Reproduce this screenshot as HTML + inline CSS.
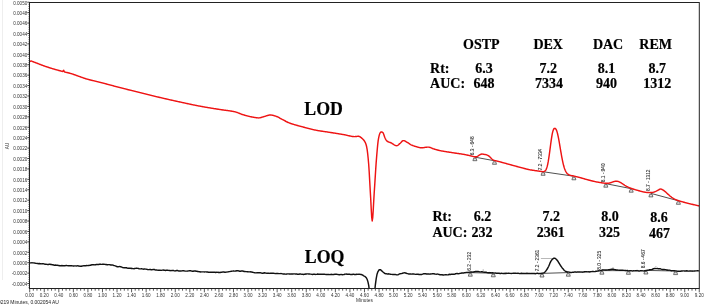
<!DOCTYPE html>
<html><head><meta charset="utf-8"><style>
html,body{margin:0;padding:0;background:#fff;}
body{width:704px;height:306px;overflow:hidden;position:relative;}
svg{position:absolute;left:0;top:0;will-change:transform;}
text{font-family:"Liberation Sans",sans-serif;}
.yl{font-size:4.6px;fill:#333;text-anchor:end;}
.xl{font-size:4.6px;fill:#333;text-anchor:middle;}
.pl{font-size:5.2px;fill:#222;stroke:#222;stroke-width:0.05px;}
.bb{font-size:3.6px;fill:#111;stroke:#111;stroke-width:0.2px;}
.big text{font-family:"Liberation Serif",serif;font-weight:bold;fill:#000;stroke:#000;stroke-width:0.2px;}
.sm{font-size:4.95px;fill:#222;}
</style></head><body>
<svg width="704" height="306" viewBox="0 0 704 306">
<line x1="2.5" y1="0" x2="2.5" y2="280" stroke="#eee" stroke-width="1"/>
<path d="M27.30,283.54h2.2 M27.30,273.12h2.2 M27.30,262.70h2.2 M27.30,252.28h2.2 M27.30,241.86h2.2 M27.30,231.44h2.2 M27.30,221.02h2.2 M27.30,210.60h2.2 M27.30,200.18h2.2 M27.30,189.76h2.2 M27.30,179.34h2.2 M27.30,168.92h2.2 M27.30,158.50h2.2 M27.30,148.08h2.2 M27.30,137.66h2.2 M27.30,127.24h2.2 M27.30,116.82h2.2 M27.30,106.40h2.2 M27.30,95.98h2.2 M27.30,85.56h2.2 M27.30,75.14h2.2 M27.30,64.72h2.2 M27.30,54.30h2.2 M27.30,43.88h2.2 M27.30,33.46h2.2 M27.30,23.04h2.2 M27.30,12.62h2.2 M27.30,2.20h2.2" stroke="#222" stroke-width="0.8" fill="none"/>
<path d="M29.50,287.71h-1 M29.50,285.62h-1 M29.50,283.54h-1 M29.50,281.46h-1 M29.50,279.37h-1 M29.50,277.29h-1 M29.50,275.20h-1 M29.50,273.12h-1 M29.50,271.04h-1 M29.50,268.95h-1 M29.50,266.87h-1 M29.50,264.78h-1 M29.50,262.70h-1 M29.50,260.62h-1 M29.50,258.53h-1 M29.50,256.45h-1 M29.50,254.36h-1 M29.50,252.28h-1 M29.50,250.20h-1 M29.50,248.11h-1 M29.50,246.03h-1 M29.50,243.94h-1 M29.50,241.86h-1 M29.50,239.78h-1 M29.50,237.69h-1 M29.50,235.61h-1 M29.50,233.52h-1 M29.50,231.44h-1 M29.50,229.36h-1 M29.50,227.27h-1 M29.50,225.19h-1 M29.50,223.10h-1 M29.50,221.02h-1 M29.50,218.94h-1 M29.50,216.85h-1 M29.50,214.77h-1 M29.50,212.68h-1 M29.50,210.60h-1 M29.50,208.52h-1 M29.50,206.43h-1 M29.50,204.35h-1 M29.50,202.26h-1 M29.50,200.18h-1 M29.50,198.10h-1 M29.50,196.01h-1 M29.50,193.93h-1 M29.50,191.84h-1 M29.50,189.76h-1 M29.50,187.68h-1 M29.50,185.59h-1 M29.50,183.51h-1 M29.50,181.42h-1 M29.50,179.34h-1 M29.50,177.26h-1 M29.50,175.17h-1 M29.50,173.09h-1 M29.50,171.00h-1 M29.50,168.92h-1 M29.50,166.84h-1 M29.50,164.75h-1 M29.50,162.67h-1 M29.50,160.58h-1 M29.50,158.50h-1 M29.50,156.42h-1 M29.50,154.33h-1 M29.50,152.25h-1 M29.50,150.16h-1 M29.50,148.08h-1 M29.50,146.00h-1 M29.50,143.91h-1 M29.50,141.83h-1 M29.50,139.74h-1 M29.50,137.66h-1 M29.50,135.58h-1 M29.50,133.49h-1 M29.50,131.41h-1 M29.50,129.32h-1 M29.50,127.24h-1 M29.50,125.16h-1 M29.50,123.07h-1 M29.50,120.99h-1 M29.50,118.90h-1 M29.50,116.82h-1 M29.50,114.74h-1 M29.50,112.65h-1 M29.50,110.57h-1 M29.50,108.48h-1 M29.50,106.40h-1 M29.50,104.32h-1 M29.50,102.23h-1 M29.50,100.15h-1 M29.50,98.06h-1 M29.50,95.98h-1 M29.50,93.90h-1 M29.50,91.81h-1 M29.50,89.73h-1 M29.50,87.64h-1 M29.50,85.56h-1 M29.50,83.48h-1 M29.50,81.39h-1 M29.50,79.31h-1 M29.50,77.22h-1 M29.50,75.14h-1 M29.50,73.06h-1 M29.50,70.97h-1 M29.50,68.89h-1 M29.50,66.80h-1 M29.50,64.72h-1 M29.50,62.64h-1 M29.50,60.55h-1 M29.50,58.47h-1 M29.50,56.38h-1 M29.50,54.30h-1 M29.50,52.22h-1 M29.50,50.13h-1 M29.50,48.05h-1 M29.50,45.96h-1 M29.50,43.88h-1 M29.50,41.80h-1 M29.50,39.71h-1 M29.50,37.63h-1 M29.50,35.54h-1 M29.50,33.46h-1 M29.50,31.38h-1 M29.50,29.29h-1 M29.50,27.21h-1 M29.50,25.12h-1 M29.50,23.04h-1 M29.50,20.96h-1 M29.50,18.87h-1 M29.50,16.79h-1 M29.50,14.70h-1 M29.50,12.62h-1 M29.50,10.54h-1 M29.50,8.45h-1 M29.50,6.37h-1 M29.50,4.28h-1" stroke="#333" stroke-width="0.8" fill="none"/>
<path d="M29.70,288.50v3.8 M33.34,288.50v2.2 M36.98,288.50v2.2 M40.62,288.50v2.2 M44.26,288.50v3.8 M47.89,288.50v2.2 M51.53,288.50v2.2 M55.17,288.50v2.2 M58.81,288.50v3.8 M62.45,288.50v2.2 M66.09,288.50v2.2 M69.73,288.50v2.2 M73.37,288.50v3.8 M77.01,288.50v2.2 M80.65,288.50v2.2 M84.28,288.50v2.2 M87.92,288.50v3.8 M91.56,288.50v2.2 M95.20,288.50v2.2 M98.84,288.50v2.2 M102.48,288.50v3.8 M106.12,288.50v2.2 M109.76,288.50v2.2 M113.40,288.50v2.2 M117.04,288.50v3.8 M120.67,288.50v2.2 M124.31,288.50v2.2 M127.95,288.50v2.2 M131.59,288.50v3.8 M135.23,288.50v2.2 M138.87,288.50v2.2 M142.51,288.50v2.2 M146.15,288.50v3.8 M149.79,288.50v2.2 M153.43,288.50v2.2 M157.06,288.50v2.2 M160.70,288.50v3.8 M164.34,288.50v2.2 M167.98,288.50v2.2 M171.62,288.50v2.2 M175.26,288.50v3.8 M178.90,288.50v2.2 M182.54,288.50v2.2 M186.18,288.50v2.2 M189.82,288.50v3.8 M193.45,288.50v2.2 M197.09,288.50v2.2 M200.73,288.50v2.2 M204.37,288.50v3.8 M208.01,288.50v2.2 M211.65,288.50v2.2 M215.29,288.50v2.2 M218.93,288.50v3.8 M222.57,288.50v2.2 M226.21,288.50v2.2 M229.84,288.50v2.2 M233.48,288.50v3.8 M237.12,288.50v2.2 M240.76,288.50v2.2 M244.40,288.50v2.2 M248.04,288.50v3.8 M251.68,288.50v2.2 M255.32,288.50v2.2 M258.96,288.50v2.2 M262.60,288.50v3.8 M266.24,288.50v2.2 M269.87,288.50v2.2 M273.51,288.50v2.2 M277.15,288.50v3.8 M280.79,288.50v2.2 M284.43,288.50v2.2 M288.07,288.50v2.2 M291.71,288.50v3.8 M295.35,288.50v2.2 M298.99,288.50v2.2 M302.62,288.50v2.2 M306.26,288.50v3.8 M309.90,288.50v2.2 M313.54,288.50v2.2 M317.18,288.50v2.2 M320.82,288.50v3.8 M324.46,288.50v2.2 M328.10,288.50v2.2 M331.74,288.50v2.2 M335.38,288.50v3.8 M339.01,288.50v2.2 M342.65,288.50v2.2 M346.29,288.50v2.2 M349.93,288.50v3.8 M353.57,288.50v2.2 M357.21,288.50v2.2 M360.85,288.50v2.2 M364.49,288.50v3.8 M368.13,288.50v2.2 M371.77,288.50v2.2 M375.40,288.50v2.2 M379.04,288.50v3.8 M382.68,288.50v2.2 M386.32,288.50v2.2 M389.96,288.50v2.2 M393.60,288.50v3.8 M397.24,288.50v2.2 M400.88,288.50v2.2 M404.52,288.50v2.2 M408.16,288.50v3.8 M411.80,288.50v2.2 M415.43,288.50v2.2 M419.07,288.50v2.2 M422.71,288.50v3.8 M426.35,288.50v2.2 M429.99,288.50v2.2 M433.63,288.50v2.2 M437.27,288.50v3.8 M440.91,288.50v2.2 M444.55,288.50v2.2 M448.19,288.50v2.2 M451.82,288.50v3.8 M455.46,288.50v2.2 M459.10,288.50v2.2 M462.74,288.50v2.2 M466.38,288.50v3.8 M470.02,288.50v2.2 M473.66,288.50v2.2 M477.30,288.50v2.2 M480.94,288.50v3.8 M484.57,288.50v2.2 M488.21,288.50v2.2 M491.85,288.50v2.2 M495.49,288.50v3.8 M499.13,288.50v2.2 M502.77,288.50v2.2 M506.41,288.50v2.2 M510.05,288.50v3.8 M513.69,288.50v2.2 M517.33,288.50v2.2 M520.97,288.50v2.2 M524.60,288.50v3.8 M528.24,288.50v2.2 M531.88,288.50v2.2 M535.52,288.50v2.2 M539.16,288.50v3.8 M542.80,288.50v2.2 M546.44,288.50v2.2 M550.08,288.50v2.2 M553.72,288.50v3.8 M557.36,288.50v2.2 M560.99,288.50v2.2 M564.63,288.50v2.2 M568.27,288.50v3.8 M571.91,288.50v2.2 M575.55,288.50v2.2 M579.19,288.50v2.2 M582.83,288.50v3.8 M586.47,288.50v2.2 M590.11,288.50v2.2 M593.75,288.50v2.2 M597.38,288.50v3.8 M601.02,288.50v2.2 M604.66,288.50v2.2 M608.30,288.50v2.2 M611.94,288.50v3.8 M615.58,288.50v2.2 M619.22,288.50v2.2 M622.86,288.50v2.2 M626.50,288.50v3.8 M630.14,288.50v2.2 M633.77,288.50v2.2 M637.41,288.50v2.2 M641.05,288.50v3.8 M644.69,288.50v2.2 M648.33,288.50v2.2 M651.97,288.50v2.2 M655.61,288.50v3.8 M659.25,288.50v2.2 M662.89,288.50v2.2 M666.53,288.50v2.2 M670.16,288.50v3.8 M673.80,288.50v2.2 M677.44,288.50v2.2 M681.08,288.50v2.2 M684.72,288.50v3.8 M688.36,288.50v2.2 M692.00,288.50v2.2 M695.64,288.50v2.2 M699.28,288.50v3.8" stroke="#333" stroke-width="0.8" fill="none"/>
<g><text x="27.3" y="285.84" class="yl">-0.0004</text>
<text x="27.3" y="275.42" class="yl">-0.0002</text>
<text x="27.3" y="265.00" class="yl">0.0000</text>
<text x="27.3" y="254.58" class="yl">0.0002</text>
<text x="27.3" y="244.16" class="yl">0.0004</text>
<text x="27.3" y="233.74" class="yl">0.0006</text>
<text x="27.3" y="223.32" class="yl">0.0008</text>
<text x="27.3" y="212.90" class="yl">0.0010</text>
<text x="27.3" y="202.48" class="yl">0.0012</text>
<text x="27.3" y="192.06" class="yl">0.0014</text>
<text x="27.3" y="181.64" class="yl">0.0016</text>
<text x="27.3" y="171.22" class="yl">0.0018</text>
<text x="27.3" y="160.80" class="yl">0.0020</text>
<text x="27.3" y="150.38" class="yl">0.0022</text>
<text x="27.3" y="139.96" class="yl">0.0024</text>
<text x="27.3" y="129.54" class="yl">0.0026</text>
<text x="27.3" y="119.12" class="yl">0.0028</text>
<text x="27.3" y="108.70" class="yl">0.0030</text>
<text x="27.3" y="98.28" class="yl">0.0032</text>
<text x="27.3" y="87.86" class="yl">0.0034</text>
<text x="27.3" y="77.44" class="yl">0.0036</text>
<text x="27.3" y="67.02" class="yl">0.0038</text>
<text x="27.3" y="56.60" class="yl">0.0040</text>
<text x="27.3" y="46.18" class="yl">0.0042</text>
<text x="27.3" y="35.76" class="yl">0.0044</text>
<text x="27.3" y="25.34" class="yl">0.0046</text>
<text x="27.3" y="14.92" class="yl">0.0048</text>
<text x="27.3" y="4.50" class="yl">0.0050</text></g>
<g><text x="29.70" y="296.5" class="xl">0.00</text>
<text x="44.26" y="296.5" class="xl">0.20</text>
<text x="58.81" y="296.5" class="xl">0.40</text>
<text x="73.37" y="296.5" class="xl">0.60</text>
<text x="87.92" y="296.5" class="xl">0.80</text>
<text x="102.48" y="296.5" class="xl">1.00</text>
<text x="117.04" y="296.5" class="xl">1.20</text>
<text x="131.59" y="296.5" class="xl">1.40</text>
<text x="146.15" y="296.5" class="xl">1.60</text>
<text x="160.70" y="296.5" class="xl">1.80</text>
<text x="175.26" y="296.5" class="xl">2.00</text>
<text x="189.82" y="296.5" class="xl">2.20</text>
<text x="204.37" y="296.5" class="xl">2.40</text>
<text x="218.93" y="296.5" class="xl">2.60</text>
<text x="233.48" y="296.5" class="xl">2.80</text>
<text x="248.04" y="296.5" class="xl">3.00</text>
<text x="262.60" y="296.5" class="xl">3.20</text>
<text x="277.15" y="296.5" class="xl">3.40</text>
<text x="291.71" y="296.5" class="xl">3.60</text>
<text x="306.26" y="296.5" class="xl">3.80</text>
<text x="320.82" y="296.5" class="xl">4.00</text>
<text x="335.38" y="296.5" class="xl">4.20</text>
<text x="349.93" y="296.5" class="xl">4.40</text>
<text x="364.49" y="296.5" class="xl">4.60</text>
<text x="379.04" y="296.5" class="xl">4.80</text>
<text x="393.60" y="296.5" class="xl">5.00</text>
<text x="408.16" y="296.5" class="xl">5.20</text>
<text x="422.71" y="296.5" class="xl">5.40</text>
<text x="437.27" y="296.5" class="xl">5.60</text>
<text x="451.82" y="296.5" class="xl">5.80</text>
<text x="466.38" y="296.5" class="xl">6.00</text>
<text x="480.94" y="296.5" class="xl">6.20</text>
<text x="495.49" y="296.5" class="xl">6.40</text>
<text x="510.05" y="296.5" class="xl">6.60</text>
<text x="524.60" y="296.5" class="xl">6.80</text>
<text x="539.16" y="296.5" class="xl">7.00</text>
<text x="553.72" y="296.5" class="xl">7.20</text>
<text x="568.27" y="296.5" class="xl">7.40</text>
<text x="582.83" y="296.5" class="xl">7.60</text>
<text x="597.38" y="296.5" class="xl">7.80</text>
<text x="611.94" y="296.5" class="xl">8.00</text>
<text x="626.50" y="296.5" class="xl">8.20</text>
<text x="641.05" y="296.5" class="xl">8.40</text>
<text x="655.61" y="296.5" class="xl">8.60</text>
<text x="670.16" y="296.5" class="xl">8.80</text>
<text x="684.72" y="296.5" class="xl">9.00</text>
<text x="699.28" y="296.5" class="xl">9.20</text></g>
<text x="364.5" y="302.2" class="xl" style="font-size:4.8px">Minutes</text>
<text x="-2" y="303.5" class="sm">0219 Minutes, 0.002054 AU</text>
<text transform="translate(8.6,146) rotate(-90)" class="xl" style="font-size:4.6px">AU</text>
<path d="M474.60,157.10L494.20,160.70 M542.80,171.70L573.60,176.20 M605.50,183.60L630.90,188.60 M650.60,193.30L678.10,200.70 M470.00,272.60L493.00,273.20 M541.70,273.40L568.00,272.60 M601.60,270.60L628.10,270.70 M645.60,270.40L675.30,271.00" stroke="#222" stroke-width="0.8" fill="none"/>
<path d="M540.9,258.5H554.6 M483.2,269.2v2.6 M613,267v2.5 M655.9,266v2.5" stroke="#888" stroke-width="0.6" fill="none"/>
<path d="M473.70,158.10h2.4l0.8,2.6h-4zM493.30,161.70h2.4l0.8,2.6h-4zM541.90,172.70h2.4l0.8,2.6h-4zM572.70,177.20h2.4l0.8,2.6h-4zM604.60,184.60h2.4l0.8,2.6h-4zM630.00,189.60h2.4l0.8,2.6h-4zM649.70,194.30h2.4l0.8,2.6h-4zM677.20,201.70h2.4l0.8,2.6h-4zM469.10,273.60h2.4l0.8,2.6h-4zM492.10,274.20h2.4l0.8,2.6h-4zM540.80,274.40h2.4l0.8,2.6h-4zM567.10,273.60h2.4l0.8,2.6h-4zM600.70,271.60h2.4l0.8,2.6h-4zM627.20,271.70h2.4l0.8,2.6h-4zM644.70,271.40h2.4l0.8,2.6h-4zM674.40,272.00h2.4l0.8,2.6h-4z" fill="#ddd" stroke="#333" stroke-width="0.65"/>
<g><text transform="translate(474.30,155.30) rotate(-90) scale(0.92,1)" class="pl">6.3 - 648</text><text transform="translate(541.80,170.30) rotate(-90) scale(0.92,1)" class="pl">7.2 - 7334</text><text transform="translate(605.00,182.30) rotate(-90) scale(0.92,1)" class="pl">8.1 - 940</text><text transform="translate(650.30,191.00) rotate(-90) scale(0.92,1)" class="pl">8.7 - 1312</text><text transform="translate(470.80,270.80) rotate(-90) scale(0.92,1)" class="pl">6.2 - 232</text><text transform="translate(539.30,271.30) rotate(-90) scale(0.92,1)" class="pl">7.2 - 2361</text><text transform="translate(600.60,269.80) rotate(-90) scale(0.92,1)" class="pl">8.0 - 325</text><text transform="translate(645.00,268.30) rotate(-90) scale(0.92,1)" class="pl">8.6 - 467</text></g>
<defs><clipPath id="pc"><rect x="29.5" y="2.5" width="669.8" height="286.0"/></clipPath></defs>
<g clip-path="url(#pc)">
<path d="M29.70,61.70L30.20,61.30L30.70,61.05L31.20,61.01L31.70,61.14L32.20,61.35L32.70,61.58L33.20,61.77L33.70,61.96L34.20,62.14L34.70,62.33L35.20,62.52L35.70,62.71L36.20,62.90L36.70,63.10L37.20,63.29L37.70,63.49L38.20,63.69L38.70,63.88L39.20,64.08L39.70,64.28L40.20,64.47L40.70,64.66L41.20,64.86L41.70,65.05L42.20,65.23L42.70,65.42L43.20,65.60L43.70,65.78L44.20,65.96L44.70,66.13L45.20,66.31L45.70,66.48L46.20,66.65L46.70,66.81L47.20,66.98L47.70,67.14L48.20,67.31L48.70,67.47L49.20,67.63L49.70,67.79L50.20,67.95L50.70,68.10L51.20,68.26L51.70,68.41L52.20,68.57L52.70,68.72L53.20,68.87L53.70,69.02L54.20,69.17L54.70,69.31L55.20,69.46L55.70,69.60L56.20,69.74L56.70,69.88L57.20,70.02L57.70,70.16L58.20,70.29L58.70,70.43L59.20,70.56L59.70,70.69L60.20,70.82L60.70,70.95L61.20,71.08L61.70,71.21L62.20,71.34L62.70,71.47L63.20,70.80L63.70,70.33L64.20,71.45L64.70,71.97L65.20,72.09L65.70,72.21L66.20,72.33L66.70,72.45L67.20,72.56L67.70,72.68L68.20,72.81L68.70,72.93L69.20,73.06L69.70,73.19L70.20,73.33L70.70,73.47L71.20,73.62L71.70,73.77L72.20,73.93L72.70,74.10L73.20,74.27L73.70,74.44L74.20,74.62L74.70,74.80L75.20,74.98L75.70,75.16L76.20,75.34L76.70,75.52L77.20,75.70L77.70,75.88L78.20,76.06L78.70,76.23L79.20,76.41L79.70,76.59L80.20,76.77L80.70,76.95L81.20,77.13L81.70,77.31L82.20,77.49L82.70,77.67L83.20,77.85L83.70,78.02L84.20,78.20L84.70,78.37L85.20,78.53L85.70,78.69L86.20,78.84L86.70,78.99L87.20,79.13L87.70,79.27L88.20,79.41L88.70,79.54L89.20,79.68L89.70,79.81L90.20,79.93L90.70,80.06L91.20,80.18L91.70,80.30L92.20,80.43L92.70,80.55L93.20,80.66L93.70,80.78L94.20,80.90L94.70,81.02L95.20,81.14L95.70,81.25L96.20,81.37L96.70,81.49L97.20,81.61L97.70,81.73L98.20,81.85L98.70,81.97L99.20,82.10L99.70,82.22L100.20,82.35L100.70,82.48L101.20,82.61L101.70,82.74L102.20,82.87L102.70,83.00L103.20,83.13L103.70,83.26L104.20,83.40L104.70,83.53L105.20,83.66L105.70,83.80L106.20,83.93L106.70,84.06L107.20,84.20L107.70,84.33L108.20,84.46L108.70,84.60L109.20,84.73L109.70,84.87L110.20,85.00L110.70,85.14L111.20,85.27L111.70,85.41L112.20,85.54L112.70,85.67L113.20,85.81L113.70,85.94L114.20,86.08L114.70,86.21L115.20,86.34L115.70,86.48L116.20,86.61L116.70,86.74L117.20,86.87L117.70,87.00L118.20,87.13L118.70,87.26L119.20,87.39L119.70,87.52L120.20,87.65L120.70,87.78L121.20,87.91L121.70,88.04L122.20,88.16L122.70,88.29L123.20,88.42L123.70,88.54L124.20,88.67L124.70,88.80L125.20,88.92L125.70,89.05L126.20,89.17L126.70,89.30L127.20,89.43L127.70,89.55L128.20,89.68L128.70,89.80L129.20,89.93L129.70,90.05L130.20,90.17L130.70,90.30L131.20,90.42L131.70,90.55L132.20,90.67L132.70,90.79L133.20,90.92L133.70,91.04L134.20,91.17L134.70,91.29L135.20,91.41L135.70,91.54L136.20,91.66L136.70,91.78L137.20,91.91L137.70,92.03L138.20,92.15L138.70,92.28L139.20,92.40L139.70,92.53L140.20,92.65L140.70,92.77L141.20,92.90L141.70,93.02L142.20,93.15L142.70,93.27L143.20,93.39L143.70,93.52L144.20,93.64L144.70,93.77L145.20,93.89L145.70,94.02L146.20,94.14L146.70,94.26L147.20,94.39L147.70,94.51L148.20,94.64L148.70,94.76L149.20,94.88L149.70,95.01L150.20,95.13L150.70,95.25L151.20,95.38L151.70,95.50L152.20,95.62L152.70,95.75L153.20,95.87L153.70,95.99L154.20,96.11L154.70,96.23L155.20,96.36L155.70,96.48L156.20,96.60L156.70,96.72L157.20,96.84L157.70,96.96L158.20,97.07L158.70,97.19L159.20,97.31L159.70,97.43L160.20,97.55L160.70,97.66L161.20,97.78L161.70,97.90L162.20,98.01L162.70,98.13L163.20,98.25L163.70,98.36L164.20,98.48L164.70,98.59L165.20,98.71L165.70,98.82L166.20,98.93L166.70,99.05L167.20,99.16L167.70,99.28L168.20,99.39L168.70,99.50L169.20,99.61L169.70,99.73L170.20,99.84L170.70,99.95L171.20,100.06L171.70,100.18L172.20,100.29L172.70,100.40L173.20,100.51L173.70,100.62L174.20,100.73L174.70,100.84L175.20,100.95L175.70,101.06L176.20,101.17L176.70,101.28L177.20,101.39L177.70,101.50L178.20,101.61L178.70,101.72L179.20,101.83L179.70,101.93L180.20,102.04L180.70,102.15L181.20,102.26L181.70,102.37L182.20,102.48L182.70,102.59L183.20,102.70L183.70,102.81L184.20,102.91L184.70,103.02L185.20,103.13L185.70,103.24L186.20,103.35L186.70,103.46L187.20,103.57L187.70,103.67L188.20,103.78L188.70,103.89L189.20,104.00L189.70,104.10L190.20,104.21L190.70,104.32L191.20,104.42L191.70,104.53L192.20,104.63L192.70,104.73L193.20,104.84L193.70,104.94L194.20,105.04L194.70,105.14L195.20,105.25L195.70,105.35L196.20,105.45L196.70,105.54L197.20,105.64L197.70,105.74L198.20,105.84L198.70,105.93L199.20,106.03L199.70,106.12L200.20,106.21L200.70,106.30L201.20,106.39L201.70,106.49L202.20,106.58L202.70,106.67L203.20,106.75L203.70,106.84L204.20,106.93L204.70,107.02L205.20,107.10L205.70,107.19L206.20,107.28L206.70,107.36L207.20,107.45L207.70,107.53L208.20,107.62L208.70,107.70L209.20,107.78L209.70,107.86L210.20,107.95L210.70,108.03L211.20,108.11L211.70,108.19L212.20,108.28L212.70,108.36L213.20,108.44L213.70,108.52L214.20,108.60L214.70,108.68L215.20,108.76L215.70,108.84L216.20,108.92L216.70,109.00L217.20,109.08L217.70,109.16L218.20,109.24L218.70,109.32L219.20,109.40L219.70,109.48L220.20,109.55L220.70,109.63L221.20,109.70L221.70,109.77L222.20,109.84L222.70,109.91L223.20,109.97L223.70,110.04L224.20,110.10L224.70,110.17L225.20,110.23L225.70,110.30L226.20,110.36L226.70,110.43L227.20,110.49L227.70,110.56L228.20,110.63L228.70,110.70L229.20,110.77L229.70,110.85L230.20,110.92L230.70,111.00L231.20,111.08L231.70,111.17L232.20,111.26L232.70,111.35L233.20,111.44L233.70,111.54L234.20,111.65L234.70,111.76L235.20,111.87L235.70,112.01L236.20,112.16L236.70,112.32L237.20,112.50L237.70,112.69L238.20,112.89L238.70,113.09L239.20,113.29L239.70,113.50L240.20,113.70L240.70,113.90L241.20,114.09L241.70,114.27L242.20,114.44L242.70,114.60L243.20,114.75L243.70,114.89L244.20,115.04L244.70,115.18L245.20,115.33L245.70,115.47L246.20,115.60L246.70,115.74L247.20,115.87L247.70,116.01L248.20,116.13L248.70,116.26L249.20,116.38L249.70,116.50L250.20,116.61L250.70,116.72L251.20,116.83L251.70,116.93L252.20,117.02L252.70,117.11L253.20,117.20L253.70,117.29L254.20,117.38L254.70,117.47L255.20,117.55L255.70,117.64L256.20,117.71L256.70,117.78L257.20,117.83L257.70,117.87L258.20,117.90L258.70,117.90L259.20,117.86L259.70,117.79L260.20,117.69L260.70,117.57L261.20,117.43L261.70,117.28L262.20,117.13L262.70,116.97L263.20,116.82L263.70,116.68L264.20,116.55L264.70,116.41L265.20,116.26L265.70,116.09L266.20,115.92L266.70,115.75L267.20,115.59L267.70,115.44L268.20,115.30L268.70,115.18L269.20,115.09L269.70,115.03L270.20,115.00L270.70,115.01L271.20,115.05L271.70,115.11L272.20,115.20L272.70,115.30L273.20,115.42L273.70,115.56L274.20,115.71L274.70,115.86L275.20,116.02L275.70,116.17L276.20,116.33L276.70,116.51L277.20,116.72L277.70,116.95L278.20,117.20L278.70,117.46L279.20,117.74L279.70,118.03L280.20,118.31L280.70,118.60L281.20,118.88L281.70,119.15L282.20,119.40L282.70,119.66L283.20,119.92L283.70,120.19L284.20,120.46L284.70,120.73L285.20,121.00L285.70,121.26L286.20,121.52L286.70,121.78L287.20,122.02L287.70,122.26L288.20,122.49L288.70,122.70L289.20,122.90L289.70,123.09L290.20,123.27L290.70,123.45L291.20,123.62L291.70,123.79L292.20,123.96L292.70,124.12L293.20,124.28L293.70,124.43L294.20,124.58L294.70,124.73L295.20,124.87L295.70,125.02L296.20,125.16L296.70,125.29L297.20,125.43L297.70,125.57L298.20,125.70L298.70,125.84L299.20,125.97L299.70,126.10L300.20,126.24L300.70,126.37L301.20,126.50L301.70,126.64L302.20,126.77L302.70,126.91L303.20,127.05L303.70,127.18L304.20,127.32L304.70,127.46L305.20,127.60L305.70,127.73L306.20,127.87L306.70,128.01L307.20,128.14L307.70,128.27L308.20,128.41L308.70,128.54L309.20,128.67L309.70,128.80L310.20,128.92L310.70,129.05L311.20,129.17L311.70,129.29L312.20,129.41L312.70,129.53L313.20,129.64L313.70,129.75L314.20,129.86L314.70,129.96L315.20,130.06L315.70,130.16L316.20,130.25L316.70,130.34L317.20,130.43L317.70,130.52L318.20,130.61L318.70,130.69L319.20,130.77L319.70,130.85L320.20,130.93L320.70,131.01L321.20,131.09L321.70,131.16L322.20,131.24L322.70,131.31L323.20,131.39L323.70,131.46L324.20,131.53L324.70,131.60L325.20,131.68L325.70,131.75L326.20,131.82L326.70,131.90L327.20,131.97L327.70,132.04L328.20,132.12L328.70,132.20L329.20,132.27L329.70,132.35L330.20,132.43L330.70,132.51L331.20,132.59L331.70,132.67L332.20,132.75L332.70,132.83L333.20,132.91L333.70,132.99L334.20,133.07L334.70,133.15L335.20,133.23L335.70,133.31L336.20,133.39L336.70,133.47L337.20,133.55L337.70,133.63L338.20,133.71L338.70,133.79L339.20,133.88L339.70,133.96L340.20,134.04L340.70,134.12L341.20,134.21L341.70,134.29L342.20,134.37L342.70,134.46L343.20,134.54L343.70,134.63L344.20,134.71L344.70,134.80L345.20,134.89L345.70,134.99L346.20,135.10L346.70,135.21L347.20,135.33L347.70,135.45L348.20,135.58L348.70,135.70L349.20,135.82L349.70,135.94L350.20,136.05L350.70,136.15L351.20,136.25L351.70,136.34L352.20,136.42L352.70,136.49L353.20,136.54L353.70,136.58L354.20,136.60L354.70,136.60L355.20,136.57L355.70,136.53L356.20,136.48L356.70,136.42L357.20,136.37L357.70,136.33L358.20,136.30L358.70,136.32L359.20,136.44L359.70,136.65L360.20,136.94L360.70,137.29L361.20,137.68L361.70,138.10L362.20,138.53L362.70,138.97L363.20,139.46L363.70,140.04L364.20,140.72L364.70,141.50L365.20,142.40L365.70,143.52L366.20,145.05L366.70,147.04L367.20,149.82L367.70,153.82L368.20,158.74L368.70,164.44L369.20,172.07L369.70,180.96L370.20,189.98L370.70,198.46L371.20,208.44L371.70,217.22L372.20,221.00L372.70,217.98L373.20,210.62L373.70,201.44L374.20,193.00L374.70,185.40L375.20,177.38L375.70,169.46L376.20,162.12L376.70,155.82L377.20,149.97L377.70,144.60L378.20,140.31L378.70,137.54L379.20,135.40L379.70,133.73L380.20,132.71L380.70,132.25L381.20,131.96L381.70,131.92L382.20,132.14L382.70,132.52L383.20,133.07L383.70,134.24L384.20,135.79L384.70,137.24L385.20,138.31L385.70,139.30L386.20,140.17L386.70,140.82L387.20,141.21L387.70,141.51L388.20,141.76L388.70,141.97L389.20,142.15L389.70,142.33L390.20,142.51L390.70,142.71L391.20,142.95L391.70,143.23L392.20,143.53L392.70,143.85L393.20,144.18L393.70,144.50L394.20,144.81L394.70,145.08L395.20,145.32L395.70,145.51L396.20,145.64L396.70,145.70L397.20,145.64L397.70,145.40L398.20,145.03L398.70,144.59L399.20,144.11L399.70,143.65L400.20,143.23L400.70,142.74L401.20,142.18L401.70,141.63L402.20,141.14L402.70,140.77L403.20,140.61L403.70,140.63L404.20,140.75L404.70,140.95L405.20,141.19L405.70,141.47L406.20,141.76L406.70,142.04L407.20,142.31L407.70,142.60L408.20,142.93L408.70,143.28L409.20,143.63L409.70,143.97L410.20,144.30L410.70,144.60L411.20,144.85L411.70,145.07L412.20,145.29L412.70,145.49L413.20,145.69L413.70,145.87L414.20,146.05L414.70,146.21L415.20,146.37L415.70,146.52L416.20,146.66L416.70,146.80L417.20,146.94L417.70,147.09L418.20,147.23L418.70,147.37L419.20,147.49L419.70,147.60L420.20,147.68L420.70,147.75L421.20,147.79L421.70,147.80L422.20,147.78L422.70,147.75L423.20,147.69L423.70,147.63L424.20,147.55L424.70,147.47L425.20,147.39L425.70,147.32L426.20,147.24L426.70,147.18L427.20,147.14L427.70,147.11L428.20,147.10L428.70,147.14L429.20,147.22L429.70,147.35L430.20,147.51L430.70,147.69L431.20,147.89L431.70,148.11L432.20,148.32L432.70,148.53L433.20,148.73L433.70,148.91L434.20,149.06L434.70,149.21L435.20,149.35L435.70,149.50L436.20,149.65L436.70,149.79L437.20,149.93L437.70,150.07L438.20,150.20L438.70,150.32L439.20,150.44L439.70,150.56L440.20,150.66L440.70,150.76L441.20,150.86L441.70,150.96L442.20,151.05L442.70,151.14L443.20,151.23L443.70,151.32L444.20,151.40L444.70,151.48L445.20,151.56L445.70,151.64L446.20,151.72L446.70,151.79L447.20,151.87L447.70,151.95L448.20,152.02L448.70,152.09L449.20,152.17L449.70,152.24L450.20,152.32L450.70,152.40L451.20,152.47L451.70,152.55L452.20,152.63L452.70,152.71L453.20,152.79L453.70,152.86L454.20,152.94L454.70,153.01L455.20,153.08L455.70,153.16L456.20,153.23L456.70,153.30L457.20,153.37L457.70,153.44L458.20,153.51L458.70,153.59L459.20,153.66L459.70,153.73L460.20,153.81L460.70,153.88L461.20,153.96L461.70,154.04L462.20,154.12L462.70,154.20L463.20,154.28L463.70,154.37L464.20,154.45L464.70,154.54L465.20,154.64L465.70,154.74L466.20,154.84L466.70,154.95L467.20,155.06L467.70,155.17L468.20,155.29L468.70,155.41L469.20,155.53L469.70,155.65L470.20,155.77L470.70,155.90L471.20,156.02L471.70,156.14L472.20,156.26L472.70,156.38L473.20,156.49L473.70,156.59L474.20,156.69L474.70,156.76L475.20,156.80L475.70,156.81L476.20,156.75L476.70,156.63L477.20,156.44L477.70,156.18L478.20,155.87L478.70,155.52L479.20,155.16L479.70,154.83L480.20,154.54L480.70,154.31L481.20,154.16L481.70,154.08L482.20,154.07L482.70,154.10L483.20,154.17L483.70,154.25L484.20,154.34L484.70,154.42L485.20,154.51L485.70,154.62L486.20,154.74L486.70,154.88L487.20,155.07L487.70,155.29L488.20,155.58L488.70,155.92L489.20,156.33L489.70,156.79L490.20,157.28L490.70,157.80L491.20,158.32L491.70,158.80L492.20,159.23L492.70,159.60L493.20,159.90L493.70,160.13L494.20,160.32L494.70,160.48L495.20,160.61L495.70,160.74L496.20,160.87L496.70,160.99L497.20,161.12L497.70,161.25L498.20,161.38L498.70,161.51L499.20,161.65L499.70,161.78L500.20,161.92L500.70,162.05L501.20,162.19L501.70,162.32L502.20,162.45L502.70,162.59L503.20,162.72L503.70,162.86L504.20,162.99L504.70,163.13L505.20,163.27L505.70,163.41L506.20,163.55L506.70,163.69L507.20,163.83L507.70,163.97L508.20,164.10L508.70,164.24L509.20,164.38L509.70,164.52L510.20,164.65L510.70,164.79L511.20,164.93L511.70,165.06L512.20,165.20L512.70,165.34L513.20,165.48L513.70,165.61L514.20,165.75L514.70,165.88L515.20,166.02L515.70,166.16L516.20,166.29L516.70,166.43L517.20,166.56L517.70,166.69L518.20,166.83L518.70,166.96L519.20,167.09L519.70,167.22L520.20,167.35L520.70,167.48L521.20,167.62L521.70,167.75L522.20,167.89L522.70,168.02L523.20,168.16L523.70,168.29L524.20,168.43L524.70,168.56L525.20,168.69L525.70,168.82L526.20,168.95L526.70,169.08L527.20,169.20L527.70,169.32L528.20,169.43L528.70,169.54L529.20,169.64L529.70,169.74L530.20,169.84L530.70,169.93L531.20,170.01L531.70,170.09L532.20,170.17L532.70,170.25L533.20,170.32L533.70,170.40L534.20,170.47L534.70,170.54L535.20,170.61L535.70,170.67L536.20,170.74L536.70,170.81L537.20,170.88L537.70,170.96L538.20,171.03L538.70,171.10L539.20,171.18L539.70,171.25L540.20,171.32L540.70,171.39L541.20,171.46L541.70,171.52L542.20,171.58L542.70,171.61L543.20,171.62L543.70,171.58L544.20,171.46L544.70,171.22L545.20,170.83L545.70,170.21L546.20,169.31L546.70,168.06L547.20,166.41L547.70,164.30L548.20,161.73L548.70,158.71L549.20,155.32L549.70,151.64L550.20,147.82L550.70,144.00L551.20,140.36L551.70,137.05L552.20,134.20L552.70,131.90L553.20,130.19L553.70,129.08L554.20,128.50L554.70,128.34L555.20,128.44L555.70,128.83L556.20,129.61L556.70,130.79L557.20,132.36L557.70,134.30L558.20,136.58L558.70,139.14L559.20,141.91L559.70,144.83L560.20,147.82L560.70,150.81L561.20,153.74L561.70,156.55L562.20,159.19L562.70,161.63L563.20,163.84L563.70,165.81L564.20,167.53L564.70,169.02L565.20,170.28L565.70,171.33L566.20,172.20L566.70,172.91L567.20,173.49L567.70,173.95L568.20,174.32L568.70,174.62L569.20,174.86L569.70,175.05L570.20,175.22L570.70,175.36L571.20,175.49L571.70,175.60L572.20,175.71L572.70,175.81L573.20,175.91L573.70,176.01L574.20,176.12L574.70,176.23L575.20,176.34L575.70,176.46L576.20,176.59L576.70,176.71L577.20,176.84L577.70,176.98L578.20,177.11L578.70,177.25L579.20,177.38L579.70,177.52L580.20,177.65L580.70,177.79L581.20,177.93L581.70,178.07L582.20,178.22L582.70,178.36L583.20,178.51L583.70,178.66L584.20,178.81L584.70,178.96L585.20,179.10L585.70,179.25L586.20,179.39L586.70,179.53L587.20,179.67L587.70,179.80L588.20,179.93L588.70,180.06L589.20,180.19L589.70,180.32L590.20,180.45L590.70,180.57L591.20,180.70L591.70,180.82L592.20,180.94L592.70,181.06L593.20,181.18L593.70,181.30L594.20,181.41L594.70,181.52L595.20,181.63L595.70,181.74L596.20,181.84L596.70,181.94L597.20,182.04L597.70,182.13L598.20,182.22L598.70,182.31L599.20,182.40L599.70,182.49L600.20,182.57L600.70,182.65L601.20,182.73L601.70,182.81L602.20,182.88L602.70,182.95L603.20,183.02L603.70,183.09L604.20,183.14L604.70,183.20L605.20,183.24L605.70,183.28L606.20,183.30L606.70,183.31L607.20,183.30L607.70,183.27L608.20,183.22L608.70,183.16L609.20,183.07L609.70,182.96L610.20,182.84L610.70,182.69L611.20,182.53L611.70,182.36L612.20,182.18L612.70,181.99L613.20,181.81L613.70,181.65L614.20,181.49L614.70,181.36L615.20,181.26L615.70,181.19L616.20,181.17L616.70,181.18L617.20,181.24L617.70,181.35L618.20,181.49L618.70,181.66L619.20,181.86L619.70,182.09L620.20,182.35L620.70,182.64L621.20,182.94L621.70,183.25L622.20,183.58L622.70,183.92L623.20,184.25L623.70,184.59L624.20,184.92L624.70,185.25L625.20,185.56L625.70,185.87L626.20,186.16L626.70,186.44L627.20,186.70L627.70,186.95L628.20,187.19L628.70,187.41L629.20,187.62L629.70,187.82L630.20,188.01L630.70,188.19L631.20,188.36L631.70,188.53L632.20,188.70L632.70,188.86L633.20,189.03L633.70,189.19L634.20,189.35L634.70,189.51L635.20,189.67L635.70,189.82L636.20,189.97L636.70,190.12L637.20,190.27L637.70,190.41L638.20,190.54L638.70,190.68L639.20,190.82L639.70,190.95L640.20,191.09L640.70,191.22L641.20,191.35L641.70,191.48L642.20,191.61L642.70,191.73L643.20,191.85L643.70,191.96L644.20,192.06L644.70,192.16L645.20,192.24L645.70,192.32L646.20,192.38L646.70,192.44L647.20,192.49L647.70,192.53L648.20,192.56L648.70,192.58L649.20,192.59L649.70,192.60L650.20,192.59L650.70,192.58L651.20,192.55L651.70,192.51L652.20,192.45L652.70,192.38L653.20,192.28L653.70,192.15L654.20,192.01L654.70,191.84L655.20,191.64L655.70,191.43L656.20,191.19L656.70,190.92L657.20,190.65L657.70,190.36L658.20,190.07L658.70,189.78L659.20,189.51L659.70,189.28L660.20,189.10L660.70,189.01L661.20,189.11L661.70,189.30L662.20,189.53L662.70,189.79L663.20,190.10L663.70,190.44L664.20,190.81L664.70,191.20L665.20,191.63L665.70,192.07L666.20,192.52L666.70,192.98L667.20,193.45L667.70,193.92L668.20,194.38L668.70,194.84L669.20,195.29L669.70,195.73L670.20,196.15L670.70,196.55L671.20,196.94L671.70,197.31L672.20,197.66L672.70,197.99L673.20,198.30L673.70,198.59L674.20,198.87L674.70,199.12L675.20,199.37L675.70,199.59L676.20,199.81L676.70,200.01L677.20,200.20L677.70,200.38L678.20,200.56L678.70,200.72L679.20,200.88L679.70,201.04L680.20,201.19L680.70,201.34L681.20,201.49L681.70,201.63L682.20,201.77L682.70,201.91L683.20,202.05L683.70,202.18L684.20,202.32L684.70,202.45L685.20,202.58L685.70,202.71L686.20,202.84L686.70,202.97L687.20,203.10L687.70,203.22L688.20,203.35L688.70,203.47L689.20,203.60L689.70,203.72L690.20,203.84L690.70,203.96L691.20,204.08L691.70,204.20L692.20,204.32L692.70,204.44L693.20,204.56L693.70,204.68L694.20,204.80L694.70,204.91L695.20,205.03L695.70,205.14L696.20,205.26L696.70,205.37L697.20,205.49L697.70,205.60L698.20,205.71L698.70,205.82L699.20,205.93" stroke="#ee1313" stroke-width="1.45" fill="none" stroke-linejoin="round"/>
<path d="M29.70,262.94L30.45,262.85L31.20,262.87L31.95,262.76L32.70,262.85L33.45,262.87L34.20,262.99L34.95,263.14L35.70,263.30L36.45,263.38L37.20,263.53L37.95,263.48L38.70,263.68L39.45,263.54L40.20,263.74L40.95,263.66L41.70,263.88L42.45,263.77L43.20,263.77L43.95,263.90L44.70,264.20L45.45,264.29L46.20,264.32L46.95,264.35L47.70,264.59L48.45,264.47L49.20,264.29L49.95,264.14L50.70,264.46L51.45,264.55L52.20,264.71L52.95,264.81L53.70,265.03L54.45,265.19L55.20,265.08L55.95,265.21L56.70,265.33L57.45,265.32L58.20,265.41L58.95,265.53L59.70,265.81L60.45,265.73L61.20,265.73L61.95,265.58L62.70,265.67L63.45,265.75L64.20,265.83L64.95,265.80L65.70,265.58L66.45,265.51L67.20,265.65L67.95,265.68L68.70,265.77L69.45,265.73L70.20,265.69L70.95,265.80L71.70,265.70L72.45,265.88L73.20,265.92L73.95,265.92L74.70,265.88L75.45,265.88L76.20,265.98L76.95,265.88L77.70,265.84L78.45,265.92L79.20,266.06L79.95,266.18L80.70,266.16L81.45,266.28L82.20,266.03L82.95,265.87L83.70,265.80L84.45,265.81L85.20,265.74L85.95,265.68L86.70,265.56L87.45,265.62L88.20,265.45L88.95,265.49L89.70,265.34L90.45,265.24L91.20,264.98L91.95,264.78L92.70,264.75L93.45,264.71L94.20,264.86L94.95,264.73L95.70,264.73L96.45,264.42L97.20,264.45L97.95,264.36L98.70,264.47L99.45,264.29L100.20,264.22L100.95,264.32L101.70,264.38L102.45,264.32L103.20,264.25L103.95,264.20L104.70,264.39L105.45,264.50L106.20,264.54L106.95,264.70L107.70,264.66L108.45,264.60L109.20,264.65L109.95,264.72L110.70,265.08L111.45,264.96L112.20,264.94L112.95,265.10L113.70,265.46L114.45,265.65L115.20,265.83L115.95,266.07L116.70,266.55L117.45,266.75L118.20,266.75L118.95,266.64L119.70,266.57L120.45,266.66L121.20,266.85L121.95,267.21L122.70,267.48L123.45,267.67L124.20,267.77L124.95,267.74L125.70,267.75L126.45,267.75L127.20,268.09L127.95,268.24L128.70,268.14L129.45,268.16L130.20,268.12L130.95,268.41L131.70,268.34L132.45,268.59L133.20,268.62L133.95,268.72L134.70,268.55L135.45,268.39L136.20,268.31L136.95,268.32L137.70,268.38L138.45,268.45L139.20,268.70L139.95,268.87L140.70,268.85L141.45,268.70L142.20,268.87L142.95,269.08L143.70,269.16L144.45,268.99L145.20,269.09L145.95,269.14L146.70,269.29L147.45,269.41L148.20,269.65L148.95,269.61L149.70,269.52L150.45,269.51L151.20,269.74L151.95,269.70L152.70,269.57L153.45,269.40L154.20,269.55L154.95,269.78L155.70,269.98L156.45,269.98L157.20,270.15L157.95,270.20L158.70,270.26L159.45,270.17L160.20,270.26L160.95,270.38L161.70,270.32L162.45,270.15L163.20,270.08L163.95,270.22L164.70,270.28L165.45,270.42L166.20,270.27L166.95,270.30L167.70,270.33L168.45,270.39L169.20,270.52L169.95,270.45L170.70,270.68L171.45,270.58L172.20,270.46L172.95,270.42L173.70,270.58L174.45,270.85L175.20,270.92L175.95,270.71L176.70,270.52L177.45,270.45L178.20,270.74L178.95,270.98L179.70,270.98L180.45,270.99L181.20,270.92L181.95,270.89L182.70,270.78L183.45,270.79L184.20,270.87L184.95,271.02L185.70,271.14L186.45,271.12L187.20,271.15L187.95,270.96L188.70,270.90L189.45,270.68L190.20,270.81L190.95,270.81L191.70,271.08L192.45,271.21L193.20,271.24L193.95,271.05L194.70,270.94L195.45,271.02L196.20,271.25L196.95,271.30L197.70,271.59L198.45,271.58L199.20,271.79L199.95,271.81L200.70,271.96L201.45,271.89L202.20,271.85L202.95,271.87L203.70,271.87L204.45,271.91L205.20,271.90L205.95,271.86L206.70,271.94L207.45,271.93L208.20,272.21L208.95,272.16L209.70,272.34L210.45,272.30L211.20,272.29L211.95,272.28L212.70,272.30L213.45,272.28L214.20,272.17L214.95,272.20L215.70,272.45L216.45,272.32L217.20,272.39L217.95,272.21L218.70,272.48L219.45,272.35L220.20,272.46L220.95,272.30L221.70,272.28L222.45,272.08L223.20,272.05L223.95,272.05L224.70,272.18L225.45,272.19L226.20,272.14L226.95,272.09L227.70,271.90L228.45,271.81L229.20,271.60L229.95,271.52L230.70,271.35L231.45,271.23L232.20,271.11L232.95,271.08L233.70,271.00L234.45,271.12L235.20,271.07L235.95,270.95L236.70,270.75L237.45,270.64L238.20,270.83L238.95,270.99L239.70,271.19L240.45,271.20L241.20,271.08L241.95,270.95L242.70,271.08L243.45,271.24L244.20,271.48L244.95,271.47L245.70,271.60L246.45,271.60L247.20,271.75L247.95,271.80L248.70,271.89L249.45,271.87L250.20,271.83L250.95,271.92L251.70,271.94L252.45,272.32L253.20,272.35L253.95,272.65L254.70,272.69L255.45,272.89L256.20,272.87L256.95,272.70L257.70,272.68L258.45,272.66L259.20,272.72L259.95,272.79L260.70,272.82L261.45,273.06L262.20,273.19L262.95,273.21L263.70,273.00L264.45,272.81L265.20,272.91L265.95,273.13L266.70,273.16L267.45,273.11L268.20,273.18L268.95,273.27L269.70,273.40L270.45,273.25L271.20,273.18L271.95,273.18L272.70,273.28L273.45,273.32L274.20,273.38L274.95,273.42L275.70,273.60L276.45,273.48L277.20,273.57L277.95,273.47L278.70,273.60L279.45,273.64L280.20,273.60L280.95,273.56L281.70,273.61L282.45,273.88L283.20,273.97L283.95,273.99L284.70,274.04L285.45,274.14L286.20,274.16L286.95,273.92L287.70,273.88L288.45,273.86L289.20,274.02L289.95,274.08L290.70,273.90L291.45,273.96L292.20,273.95L292.95,274.03L293.70,273.89L294.45,273.87L295.20,273.91L295.95,274.09L296.70,274.04L297.45,274.19L298.20,274.25L298.95,274.22L299.70,274.04L300.45,274.03L301.20,274.11L301.95,274.37L302.70,274.30L303.45,274.45L304.20,274.33L304.95,274.31L305.70,274.06L306.45,274.01L307.20,273.87L307.95,273.89L308.70,274.01L309.45,274.03L310.20,274.10L310.95,274.14L311.70,274.35L312.45,274.45L313.20,274.26L313.95,274.19L314.70,274.17L315.45,274.42L316.20,274.35L316.95,274.26L317.70,274.05L318.45,274.22L319.20,274.29L319.95,274.24L320.70,274.17L321.45,274.11L322.20,274.34L322.95,274.28L323.70,274.23L324.45,274.18L325.20,274.35L325.95,274.46L326.70,274.51L327.45,274.42L328.20,274.48L328.95,274.54L329.70,274.64L330.45,274.49L331.20,274.42L331.95,274.33L332.70,274.61L333.45,274.47L334.20,274.42L334.95,274.16L335.70,274.23L336.45,274.19L337.20,274.36L337.95,274.48L338.70,274.66L339.45,274.71L340.20,274.58L340.95,274.63L341.70,274.53L342.45,274.67L343.20,274.61L343.95,274.53L344.70,274.30L345.45,274.12L346.20,274.09L346.95,274.20L347.70,274.22L348.45,274.20L349.20,274.27L349.95,274.34L350.70,274.54L351.45,274.43L352.20,274.43L352.95,274.33L353.70,274.32L354.45,274.41L355.20,274.38L355.95,274.50L356.70,274.26L357.45,274.37L358.20,274.13L358.95,274.34L359.70,274.18L360.45,274.41L361.20,274.36L361.95,274.79L362.70,275.11L363.45,275.68L364.20,276.10L364.95,276.45L365.70,277.10L366.45,277.99L367.20,279.53L367.95,281.86L368.70,285.31L369.45,290.99L370.20,291.28L370.95,291.26L371.70,291.16L372.45,291.02L373.20,290.80L373.95,290.71L374.70,290.72L375.45,284.13L376.20,278.62L376.95,274.53L377.70,272.22L378.45,270.94L379.20,269.75L379.95,269.75L380.70,269.84L381.45,270.63L382.20,271.29L382.95,271.99L383.70,272.52L384.45,273.25L385.20,273.51L385.95,273.74L386.70,273.84L387.45,273.92L388.20,273.94L388.95,273.83L389.70,274.14L390.45,274.21L391.20,274.39L391.95,274.36L392.70,274.48L393.45,274.47L394.20,274.44L394.95,274.51L395.70,274.58L396.45,274.77L397.20,274.85L397.95,274.74L398.70,274.40L399.45,273.92L400.20,273.73L400.95,273.61L401.70,273.48L402.45,273.30L403.20,273.05L403.95,272.88L404.70,272.80L405.45,272.99L406.20,273.19L406.95,273.47L407.70,273.64L408.45,273.93L409.20,273.88L409.95,274.04L410.70,273.95L411.45,274.13L412.20,274.09L412.95,274.08L413.70,274.01L414.45,274.13L415.20,274.27L415.95,274.35L416.70,274.19L417.45,274.20L418.20,274.33L418.95,274.50L419.70,274.48L420.45,274.44L421.20,274.44L421.95,274.41L422.70,274.09L423.45,273.82L424.20,273.63L424.95,273.72L425.70,273.77L426.45,274.02L427.20,273.90L427.95,274.06L428.70,273.97L429.45,274.15L430.20,274.03L430.95,273.99L431.70,273.88L432.45,273.70L433.20,273.64L433.95,273.69L434.70,273.98L435.45,274.10L436.20,274.18L436.95,274.11L437.70,274.08L438.45,274.28L439.20,274.44L439.95,274.83L440.70,274.75L441.45,274.83L442.20,274.74L442.95,274.93L443.70,274.97L444.45,274.84L445.20,274.69L445.95,274.67L446.70,274.79L447.45,274.87L448.20,274.70L448.95,274.44L449.70,274.29L450.45,274.41L451.20,274.32L451.95,274.28L452.70,274.15L453.45,274.18L454.20,274.16L454.95,274.04L455.70,273.81L456.45,273.58L457.20,273.55L457.95,273.70L458.70,273.66L459.45,273.51L460.20,273.35L460.95,273.16L461.70,273.04L462.45,272.97L463.20,272.90L463.95,272.90L464.70,272.66L465.45,272.68L466.20,272.43L466.95,272.52L467.70,272.35L468.45,272.45L469.20,272.27L469.95,272.14L470.70,272.07L471.45,272.01L472.20,272.11L472.95,272.05L473.70,271.98L474.45,271.78L475.20,271.59L475.95,271.54L476.70,271.57L477.45,271.51L478.20,271.51L478.95,271.61L479.70,271.86L480.45,271.88L481.20,271.78L481.95,271.64L482.70,271.93L483.45,272.12L484.20,272.27L484.95,272.16L485.70,272.28L486.45,272.34L487.20,272.61L487.95,272.66L488.70,272.76L489.45,272.60L490.20,272.77L490.95,272.77L491.70,272.88L492.45,272.81L493.20,272.96L493.95,273.00L494.70,273.13L495.45,273.08L496.20,273.24L496.95,273.26L497.70,273.28L498.45,273.28L499.20,273.29L499.95,273.43L500.70,273.44L501.45,273.32L502.20,273.36L502.95,273.47L503.70,273.52L504.45,273.55L505.20,273.29L505.95,273.42L506.70,273.26L507.45,273.37L508.20,273.21L508.95,273.19L509.70,273.35L510.45,273.37L511.20,273.52L511.95,273.40L512.70,273.33L513.45,273.24L514.20,273.12L514.95,273.24L515.70,273.26L516.45,273.35L517.20,273.24L517.95,273.40L518.70,273.33L519.45,273.59L520.20,273.41L520.95,273.55L521.70,273.28L522.45,273.46L523.20,273.35L523.95,273.49L524.70,273.48L525.45,273.47L526.20,273.48L526.95,273.32L527.70,273.51L528.45,273.56L529.20,273.55L529.95,273.58L530.70,273.37L531.45,273.57L532.20,273.47L532.95,273.58L533.70,273.54L534.45,273.57L535.20,273.73L535.95,273.57L536.70,273.34L537.45,273.31L538.20,273.46L538.95,273.66L539.70,273.50L540.45,273.42L541.20,273.37L541.95,273.23L542.70,273.10L543.45,272.86L544.20,272.57L544.95,271.94L545.70,271.22L546.45,270.10L547.20,269.04L547.95,267.72L548.70,266.25L549.45,264.42L550.20,262.59L550.95,261.12L551.70,260.09L552.45,259.25L553.20,258.66L553.95,258.19L554.70,258.15L555.45,258.56L556.20,259.19L556.95,260.04L557.70,260.98L558.45,262.24L559.20,263.43L559.95,264.62L560.70,265.77L561.45,266.84L562.20,267.92L562.95,268.74L563.70,269.66L564.45,270.45L565.20,271.04L565.95,271.52L566.70,271.73L567.45,272.04L568.20,272.02L568.95,272.13L569.70,272.26L570.45,272.42L571.20,272.51L571.95,272.36L572.70,272.28L573.45,272.26L574.20,272.08L574.95,272.05L575.70,272.05L576.45,272.16L577.20,272.02L577.95,271.98L578.70,271.89L579.45,272.03L580.20,271.92L580.95,272.12L581.70,272.09L582.45,272.17L583.20,271.88L583.95,271.98L584.70,271.74L585.45,271.82L586.20,271.80L586.95,271.76L587.70,271.89L588.45,271.84L589.20,271.94L589.95,271.74L590.70,271.68L591.45,271.64L592.20,271.55L592.95,271.53L593.70,271.59L594.45,271.63L595.20,271.53L595.95,271.32L596.70,271.29L597.45,271.08L598.20,271.02L598.95,270.78L599.70,270.85L600.45,270.66L601.20,270.48L601.95,270.08L602.70,269.84L603.45,269.89L604.20,269.90L604.95,270.06L605.70,269.94L606.45,269.95L607.20,269.87L607.95,269.90L608.70,269.74L609.45,269.68L610.20,269.47L610.95,269.42L611.70,269.26L612.45,269.32L613.20,269.30L613.95,269.41L614.70,269.63L615.45,269.73L616.20,269.98L616.95,269.97L617.70,270.07L618.45,270.12L619.20,270.18L619.95,270.20L620.70,270.24L621.45,270.24L622.20,270.32L622.95,270.24L623.70,270.36L624.45,270.39L625.20,270.57L625.95,270.49L626.70,270.61L627.45,270.55L628.20,270.74L628.95,270.87L629.70,270.80L630.45,270.74L631.20,270.77L631.95,270.86L632.70,270.98L633.45,270.81L634.20,270.88L634.95,270.82L635.70,270.82L636.45,270.66L637.20,270.59L637.95,270.82L638.70,270.93L639.45,271.05L640.20,270.83L640.95,270.83L641.70,270.65L642.45,270.81L643.20,270.88L643.95,270.99L644.70,270.78L645.45,270.68L646.20,270.44L646.95,270.39L647.70,270.18L648.45,270.11L649.20,269.84L649.95,269.73L650.70,269.63L651.45,269.58L652.20,269.37L652.95,269.01L653.70,268.70L654.45,268.52L655.20,268.64L655.95,268.62L656.70,268.62L657.45,268.53L658.20,268.69L658.95,268.69L659.70,268.76L660.45,268.80L661.20,269.12L661.95,269.38L662.70,269.55L663.45,269.59L664.20,269.50L664.95,269.62L665.70,269.62L666.45,269.92L667.20,270.06L667.95,270.25L668.70,270.11L669.45,270.14L670.20,270.33L670.95,270.66L671.70,270.79L672.45,270.62L673.20,270.60L673.95,270.66L674.70,270.84L675.45,270.86L676.20,270.95L676.95,271.14L677.70,271.28L678.45,271.30L679.20,271.33L679.95,271.12L680.70,271.24L681.45,270.98L682.20,271.02L682.95,270.85L683.70,270.87L684.45,270.99L685.20,270.88L685.95,270.93L686.70,270.76L687.45,270.95L688.20,271.06L688.95,271.15L689.70,270.99L690.45,271.01L691.20,270.99L691.95,271.16L692.70,271.08L693.45,271.12L694.20,270.88L694.95,270.91L695.70,270.85L696.45,270.89L697.20,270.81L697.95,270.81L698.70,270.86L699.45,270.86" stroke="#111" stroke-width="1.45" fill="none" stroke-linejoin="round"/>
</g>
<rect x="29.5" y="2.5" width="669.8" height="286.0" fill="none" stroke="#222" stroke-width="1"/>
<g class="big" style="font-size:14px">
<text x="463" y="49">OSTP</text>
<text x="533.4" y="49">DEX</text>
<text x="592.9" y="49">DAC</text>
<text x="639.3" y="49">REM</text>
<text x="430.1" y="73">Rt:</text>
<text x="430.1" y="88.3">AUC:</text>
<text x="484.1" y="73" text-anchor="middle">6.3</text>
<text x="483.9" y="88.3" text-anchor="middle">648</text>
<text x="548.3" y="73" text-anchor="middle">7.2</text>
<text x="548.9" y="88.3" text-anchor="middle">7334</text>
<text x="606.4" y="73" text-anchor="middle">8.1</text>
<text x="606.4" y="88.3" text-anchor="middle">940</text>
<text x="657.3" y="73" text-anchor="middle">8.7</text>
<text x="657.2" y="88.3" text-anchor="middle">1312</text>
<text x="432.4" y="220.7">Rt:</text>
<text x="432.4" y="236.7">AUC:</text>
<text x="482.5" y="220.7" text-anchor="middle">6.2</text>
<text x="481.9" y="236.7" text-anchor="middle">232</text>
<text x="551.3" y="220.7" text-anchor="middle">7.2</text>
<text x="550.8" y="236.7" text-anchor="middle">2361</text>
<text x="609.9" y="220.7" text-anchor="middle">8.0</text>
<text x="609.4" y="236.7" text-anchor="middle">325</text>
<text x="658.9" y="222.2" text-anchor="middle">8.6</text>
<text x="659.5" y="237.9" text-anchor="middle">467</text>
</g>
<g class="big" style="font-size:17.8px">
<text x="304.3" y="114.6">LOD</text>
<text x="304.8" y="262.6">LOQ</text>
</g>
</svg>
</body></html>
